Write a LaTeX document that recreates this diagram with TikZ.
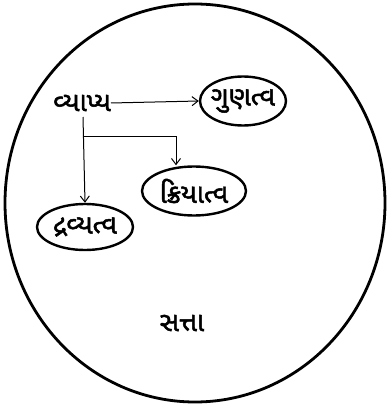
\documentclass[tikz,border=0pt]{standalone}
\usepackage{fontspec}
\newfontfamily\gujfont[Script=Gujarati, FakeBold=1.8]{Noto Sans Gujarati UI}
\usetikzlibrary{shapes.geometric,arrows.meta}
\begin{document}
\begin{tikzpicture}[x=1pt,y=-1pt,
  lbl/.style={font=\gujfont\fontsize{27}{30}\selectfont, inner sep=0pt},
  oval/.style={ellipse, draw, line width=2.4pt, inner sep=0pt, minimum width=#1, minimum height=49pt},
  conn/.style={line width=1pt, -{Straight Barb[length=6pt,width=9pt,line width=1pt]}}]
\useasboundingbox (0,0) rectangle (387,409);
\node[draw, ellipse, line width=2.8pt, minimum width=380pt, minimum height=398pt] (satta) at (195,203) {};
\node[lbl] (vyapya) at (82,103) {વ્યાપ્ય};
\node[oval=86pt, label={[lbl]center:ગુણત્વ}] (gunatva) at (243,101) {};
\node[oval=104pt, label={[lbl]center:ક્રિયાત્વ}] (kriyatva) at (194,191) {};
\node[oval=96pt, minimum height=46pt, label={[lbl]center:દ્રવ્યત્વ}] (dravyatva) at (85,227) {};
\node[lbl] (sattalbl) at (182,323) {સત્તા};
\coordinate (vtop) at (83,117);
\coordinate (branch) at (83,136);
\draw[conn] (vyapya.east) -- (gunatva.west);
\draw[conn] (vtop) -- (dravyatva.north);
\draw[conn] (branch) -| (kriyatva.north -| 176,0);
\end{tikzpicture}
\end{document}
